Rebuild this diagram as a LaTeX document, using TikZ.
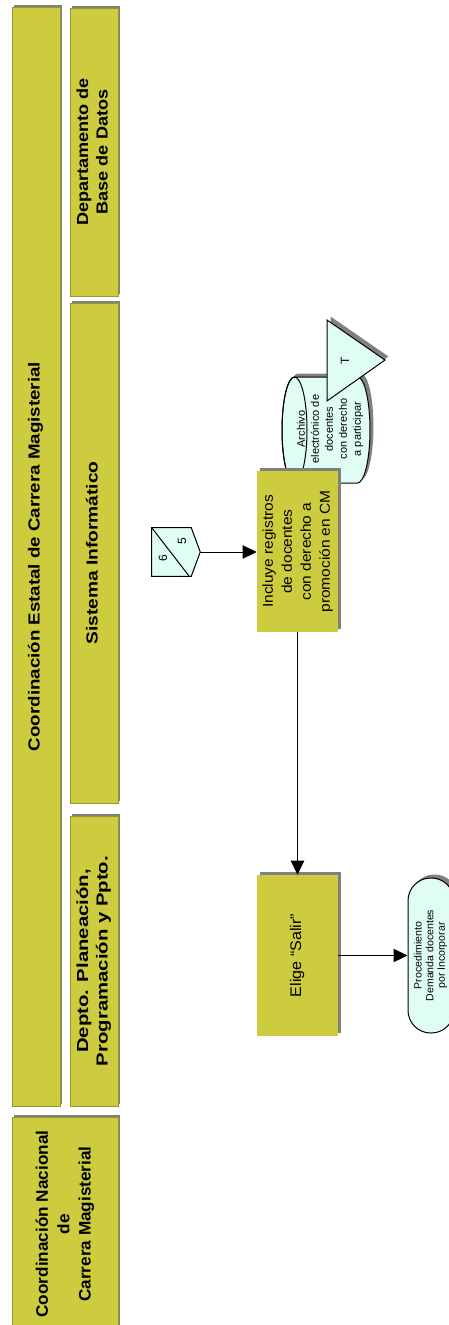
\documentclass[tikz,border=0pt]{standalone}
\usepackage{fontspec}
\setmainfont{Liberation Sans}
\usetikzlibrary{arrows.meta,shadows,calc}

\definecolor{olivefill}{RGB}{204,204,62}
\definecolor{oliveline}{RGB}{150,150,45}
\definecolor{shadegray}{RGB}{128,128,128}
\definecolor{aqua}{RGB}{224,253,244}

% vertical (rotated) multi-line label: #1 stretch, #2 font size, #3 line skip, #4 lines
\newcommand{\vlabel}[4]{\rotatebox{90}{\scalebox{#1}[1]{\fontsize{#2}{#3}\selectfont\begin{tabular}{@{}c@{}}#4\end{tabular}}}}

\tikzset{
  header/.style={rectangle, fill=olivefill, draw=oliveline, line width=0.4pt,
    inner sep=0pt, font=\bfseries,
    drop shadow={shadow xshift=1.5pt, shadow yshift=1.5pt, fill=shadegray, opacity=1}},
  procbox/.style={rectangle, fill=olivefill, inner sep=0pt,
    minimum width=60.75pt, minimum height=120.75pt,
    drop shadow={shadow xshift=2.6pt, shadow yshift=2.6pt, fill=shadegray, opacity=1}},
  termbox/.style={rectangle, rounded corners=17pt, fill=aqua, draw=black, line width=0.75pt,
    inner sep=0pt, minimum width=34.5pt, minimum height=116.25pt,
    drop shadow={shadow xshift=2.6pt, shadow yshift=2.6pt, fill=shadegray, opacity=1}},
  txt/.style={inner sep=0pt},
  flow/.style={draw=black, line width=0.75pt, -{Triangle[length=10.5pt,width=10pt]}},
  outline/.style={draw=black, line width=0.75pt, fill=aqua},
  shadowfill/.style={fill=shadegray, draw=none}
}

\begin{document}
\begin{tikzpicture}[x=0.75pt,y=-0.75pt]
\path[use as bounding box] (0,0) rectangle (449,1325);
\clip (0,0) rectangle (449,1325);
\fill[white] (0,0) rectangle (449,1325);

% ---- lane headers ----
\node[header, minimum width=36pt, minimum height=824.25pt] (estatal) at (36,556.5)
  {\vlabel{1.17}{12pt}{14pt}{Coordinación Estatal de Carrera Magisterial}};
\node[header, minimum width=36pt, minimum height=216pt] (basedatos) at (94,152)
  {\vlabel{1.13}{12pt}{14.5pt}{Departamento de\\Base de Datos}};
\node[header, minimum width=36pt, minimum height=375pt] (sistema) at (94,553)
  {\vlabel{1.2}{12pt}{14pt}{Sistema Informático}};
\node[header, minimum width=36pt, minimum height=217.5pt] (planeacion) at (94,961)
  {\vlabel{1.27}{12pt}{14.5pt}{Depto. Planeación,\\Programación y Ppto.}};
\node[header, minimum width=79.5pt, minimum height=160pt] (nacional) at (65,1224)
  {\vlabel{1.03}{12.5pt}{16pt}{Coordinación Nacional\\de\\Carrera Magisterial}};

% ---- data store (cylinder lying on its side) ----
\begin{scope}[xshift=2.6pt, yshift=2.6pt]
  \path[shadowfill] (294.5,377) -- (357.5,377)
    arc[start angle=90, end angle=-90, x radius=9.375pt, y radius=39.75pt]
    -- (294.5,483)
    arc[start angle=270, end angle=90, x radius=9.375pt, y radius=39.75pt] -- cycle;
\end{scope}
\path[outline] (294.5,377) -- (357.5,377)
  arc[start angle=90, end angle=-90, x radius=9.375pt, y radius=39.75pt]
  -- (294.5,483)
  arc[start angle=270, end angle=90, x radius=9.375pt, y radius=39.75pt] -- cycle;
\draw[line width=0.75pt] (294.5,430) ellipse [x radius=9.375pt, y radius=39.75pt];
\node[txt] (archivo) at (330,429)
  {\vlabel{1.0}{8.25pt}{10.5pt}{Archivo\\electrónico de\\docentes\\con derecho\\a participar}};

% ---- transfer triangle ----
\path[shadowfill] (330.5,316.5) -- (330.5,397.5) -- (388.5,356.5) -- cycle;
\path[outline] (327,320) -- (327,401) -- (385,360) -- cycle;
\node[txt] (tri) at (345,361) {\rotatebox{90}{\fontsize{9pt}{11pt}\selectfont T}};

% ---- off-page connector 6/5 ----
\node[txt, minimum width=36pt, minimum height=36pt] (conn) at (176,552) {};
\begin{scope}[xshift=2.6pt, yshift=2.6pt]
  \path[shadowfill] (conn.north west) -- ($(conn.north east)+(-9,0)$) -- (conn.east)
    -- ($(conn.south east)+(-9,0)$) -- (conn.south west) -- cycle;
\end{scope}
\path[outline] (conn.north west) -- ($(conn.north east)+(-9,0)$) -- (conn.east)
  -- ($(conn.south east)+(-9,0)$) -- (conn.south west) -- cycle;
\draw[line width=0.75pt] (conn.north west) -- ($(conn.south east)+(-11,0)$);
\node[txt] (six) at (163,558) {\rotatebox{90}{\fontsize{9pt}{10pt}\selectfont 6}};
\node[txt] (five) at (182,541) {\rotatebox{90}{\fontsize{9pt}{10pt}\selectfont 5}};

% ---- process steps ----
\node[procbox] (incluye) at (297.5,551.5)
  {\vlabel{1.08}{10.75pt}{14.25pt}{Incluye registros\\de docentes\\con derecho a\\promoción en CM}};
\node[procbox] (elige) at (297.5,955.5)
  {\vlabel{1.05}{11.5pt}{14pt}{Elige “Salir”}};

% ---- terminator ----
\node[termbox] (term) at (431,955.5)
  {\vlabel{1.0}{7.9pt}{8.7pt}{Procedimiento\\Demanda docentes\\por Incorporar}};

% ---- connectors ----
\draw[flow] (conn.east) -- (incluye.west |- conn.east);
\draw[flow] (incluye.south) -- (elige.north);
\draw[flow] (elige.east) -- (term.west);
\end{tikzpicture}
\end{document}
